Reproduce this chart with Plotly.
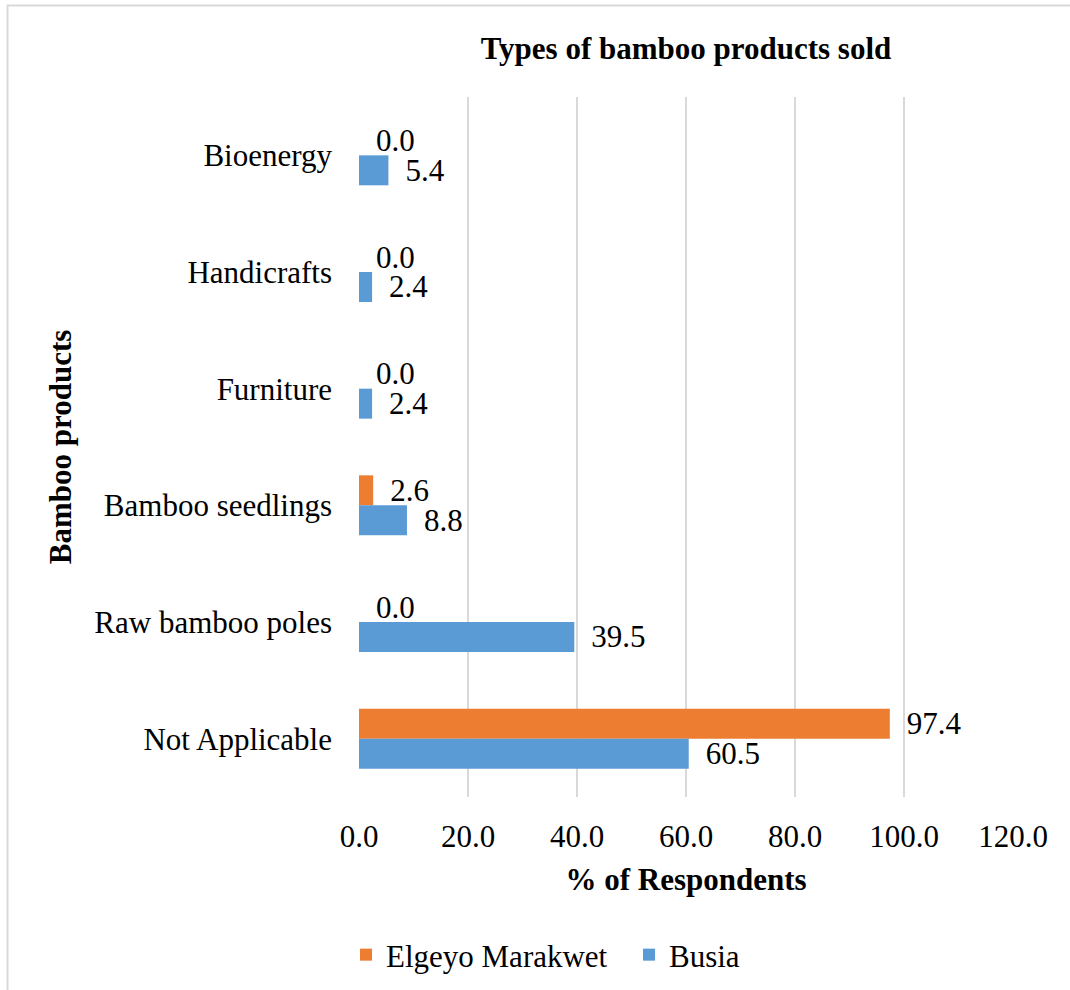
import plotly.graph_objects as go

# Product categories, listed top to bottom
products = ["Bioenergy", "Handicrafts", "Furniture", "Bamboo seedlings",
            "Raw bamboo poles", "Not Applicable"]
elgeyo = [0.0, 0.0, 0.0, 2.6, 0.0, 97.4]
busia = [5.4, 2.4, 2.4, 8.8, 39.5, 60.5]
x_ticks = [0, 20, 40, 60, 80, 100, 120]

ORANGE = "#ED7D31"
BLUE = "#5B9BD5"
GRID = "#D9D9D9"
FONT = "Liberation Serif"
FS = 31

W, H = 1070, 990
L, R, T, B = 359, 57, 97, 193
PW, PH = W - L - R, H - T - B


def px_x(p):
    return (p - L) / PW


def px_y(p):
    return (H - B - p) / PH


LABEL = "\u00a0\u2009%{x:.1f}"

fig = go.Figure()
fig.add_trace(go.Bar(
    name="Elgeyo Marakwet", y=products, x=elgeyo, orientation="h",
    marker=dict(color=ORANGE, line=dict(width=0)),
    texttemplate=LABEL, textposition="outside",
    textfont=dict(family=FONT, size=FS, color="black"),
    constraintext="none", cliponaxis=False, legendrank=1,
))
fig.add_trace(go.Bar(
    name="Busia", y=products, x=busia, orientation="h",
    marker=dict(color=BLUE, line=dict(width=0)),
    texttemplate=LABEL, textposition="outside",
    textfont=dict(family=FONT, size=FS, color="black"),
    constraintext="none", cliponaxis=False, legendrank=2,
))

fig.update_layout(
    width=W, height=H,
    margin=dict(l=L, r=R, t=T, b=B, autoexpand=False),
    paper_bgcolor="white", plot_bgcolor="white",
    font=dict(family=FONT, size=FS, color="black"),
    barmode="group", bargap=0.486, bargroupgap=0,
    title=dict(text="<b>Types of bamboo products sold</b>",
               x=px_x(686), xref="paper", xanchor="center",
               y=1 - 48 / H, yanchor="middle",
               font=dict(family=FONT, size=FS, color="black")),
    xaxis=dict(range=[0, 120], tickvals=x_ticks, ticktext=[f"{v:.1f}" for v in x_ticks],
               showgrid=True, gridcolor=GRID, gridwidth=1.5, zeroline=False,
               showline=False, ticks="", ticklabelstandoff=18,
               title=dict(text="<b>% of Respondents</b>", standoff=15,
                          font=dict(family=FONT, size=FS))),
    yaxis=dict(categoryorder="array", categoryarray=products, autorange="reversed",
               showgrid=False, zeroline=False, showline=False, ticks="",
               ticklabelstandoff=26,
               title=dict(text="<b>Bamboo products</b>", standoff=13,
                          font=dict(family=FONT, size=FS))),
    legend=dict(orientation="h", x=px_x(346), xanchor="left",
                y=px_y(955), yanchor="middle", entrywidth=238,
                font=dict(family=FONT, size=FS), bgcolor="rgba(0,0,0,0)"),
    shapes=[dict(type="rect", xref="paper", yref="paper",
                 x0=px_x(7.5), x1=px_x(1080), y0=px_y(1000), y1=px_y(5.5),
                 line=dict(color=GRID, width=2), layer="below")],
)

fig.write_html("out.html")
